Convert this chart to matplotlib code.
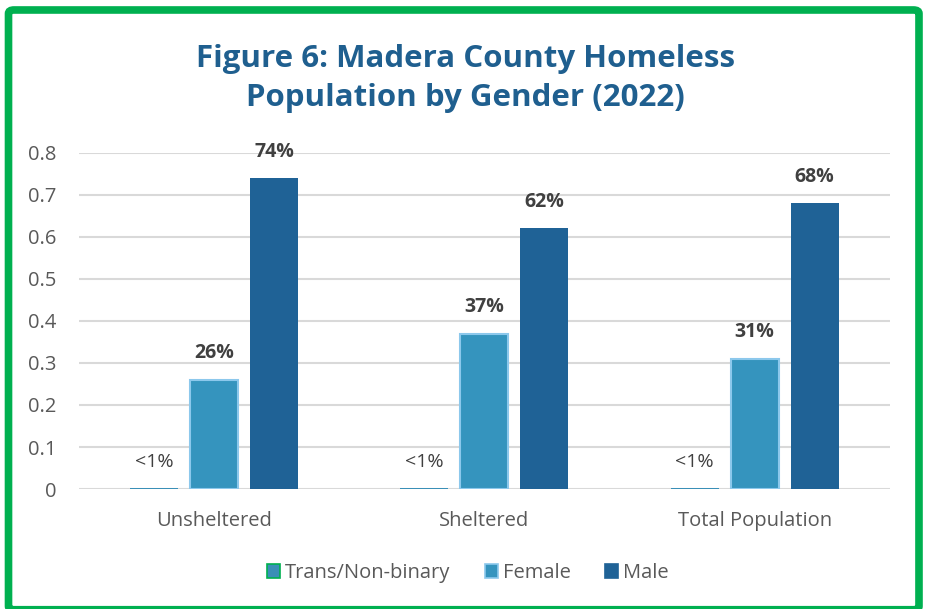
"""Madera County homeless population by gender (2022)."""

import matplotlib

matplotlib.use("Agg")
import matplotlib.pyplot as plt
import numpy as np
from matplotlib.patches import FancyBboxPatch

categories = ["Unsheltered", "Sheltered", "Total Population"]
series_names = ["Trans/Non-binary", "Female", "Male"]
trans_values = [0.002, 0.002, 0.002]
female_values = [0.26, 0.37, 0.31]
male_values = [0.74, 0.62, 0.68]
trans_labels = ["<1%", "<1%", "<1%"]
female_labels = ["26%", "37%", "31%"]
male_labels = ["74%", "62%", "68%"]

plt.rcParams["font.family"] = ["Open Sans", "DejaVu Sans"]

fig = plt.figure(figsize=(9.25, 6.09), dpi=100)
ax = fig.add_axes([0.0854, 0.197, 0.8766, 0.552])

x = np.arange(len(categories))
width = 0.178
offset = 0.222

bars_t = ax.bar(x - offset, trans_values, width, color="#3A8FB7",
                linewidth=0, label=series_names[0], zorder=3)
bars_f = ax.bar(x, female_values, width, color="#3594BE",
                edgecolor="#8CC8EC", linewidth=1.5, label=series_names[1], zorder=3)
bars_m = ax.bar(x + offset, male_values, width, color="#1F6296",
                linewidth=0, label=series_names[2], zorder=3)

for bars, labels, bold in [(bars_t, trans_labels, False),
                           (bars_f, female_labels, True),
                           (bars_m, male_labels, True)]:
    for b, lab in zip(bars, labels):
        ax.annotate(lab, (b.get_x() + b.get_width() / 2, b.get_height()),
                    xytext=(0, 19), textcoords="offset points",
                    ha="center", va="center", fontsize=14,
                    fontweight="bold" if bold else "normal", color="#404040")

ax.set_xlim(-0.5, 2.5)
ax.set_ylim(0, 0.8)
ax.set_yticks(np.arange(0, 0.81, 0.1))
ax.set_yticklabels(["0", "0.1", "0.2", "0.3", "0.4", "0.5", "0.6", "0.7", "0.8"])
ax.set_xticks(x)
ax.set_xticklabels(categories)
ax.tick_params(axis="both", length=0, labelsize=14.5, colors="#595959")
ax.tick_params(axis="y", pad=16)
ax.tick_params(axis="x", pad=16)
ax.grid(axis="y", color="#D9D9D9", linewidth=1.5, zorder=0)
for s in ax.spines.values():
    s.set_visible(False)

fig.text(0.503, 0.871, "Figure 6: Madera County Homeless\nPopulation by Gender (2022)",
         ha="center", va="center", fontsize=22.5, fontweight="bold",
         color="#1F5F8F", linespacing=1.38)

handles = [
    plt.Rectangle((0, 0), 1, 1, facecolor="#3A8FB7", edgecolor="#00B050", linewidth=1.2),
    plt.Rectangle((0, 0), 1, 1, facecolor="#3594BE", edgecolor="#8CC8EC", linewidth=1.2),
    plt.Rectangle((0, 0), 1, 1, facecolor="#1F6296", edgecolor="#1F6296", linewidth=1.2),
]
fig.legend(handles, series_names, loc="center", bbox_to_anchor=(0.506, 0.059),
           ncol=3, frameon=False, fontsize=14.5, handlelength=0.65, handleheight=0.65,
           handletextpad=0.25, columnspacing=1.7, labelcolor="#595959")

border = FancyBboxPatch((0.0092, -0.0012), 0.9843, 0.9848,
                        boxstyle="round,pad=0,rounding_size=0.006",
                        transform=fig.transFigure, fill=False, edgecolor="#00B050",
                        linewidth=5.5, zorder=10)
fig.patches.append(border)

fig.savefig("out.png", dpi=100)
